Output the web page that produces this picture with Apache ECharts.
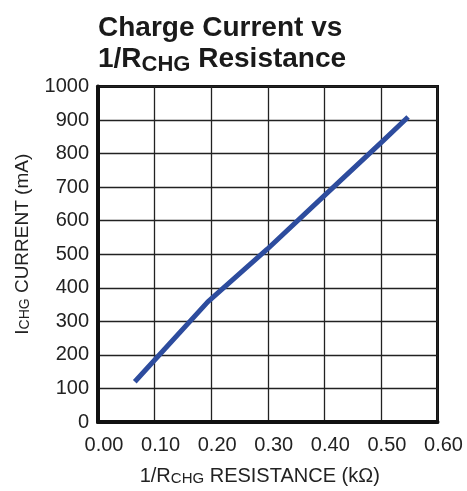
<!DOCTYPE html>
<html>
<head>
<meta charset="utf-8">
<script src="https://cdn.jsdelivr.net/npm/echarts@6/dist/echarts.min.js"></script>
<style>
html,body{margin:0;padding:0;background:#fff;}
#chart{width:467px;height:491px;}
</style>
</head>
<body>
<div id="chart"></div>
<script>
// Data
var xValues = [0.065, 0.194, 0.299, 0.392, 0.505, 0.548];   // 1/RCHG (1/kΩ)
var yValues = [120, 358, 515, 662, 840, 909];                // ICHG (mA)
var xTicks = ['0.00', '0.10', '0.20', '0.30', '0.40', '0.50', '0.60'];
var yTicks = ['0', '100', '200', '300', '400', '500', '600', '700', '800', '900', '1000'];

var FONT = '"Liberation Sans", Arial, sans-serif';
var chart = echarts.init(document.getElementById('chart'), null, {renderer: 'canvas'});

var pts = xValues.map(function (x, i) { return [x, yValues[i]]; });

chart.setOption({
  animation: false,
  backgroundColor: '#fff',
  title: {
    left: 93,
    top: 6,
    text: '{a|Charge Current vs}\n{a|1/R}{b|CHG}{a| Resistance}',
    textStyle: {
      rich: {
        a: {fontFamily: FONT, fontWeight: 'bold', fontSize: 28, color: '#1a1a1a', lineHeight: 31, verticalAlign: 'bottom'},
        b: {fontFamily: FONT, fontWeight: 'bold', fontSize: 22, color: '#1a1a1a', lineHeight: 31, verticalAlign: 'bottom', padding: [0, 0, -3, 0]}
      }
    }
  },
  grid: {
    left: 98, right: 29.5, top: 86.5, bottom: 68.5,
    show: true, borderColor: '#111', borderWidth: 3, backgroundColor: 'transparent'
  },
  xAxis: {
    type: 'value', min: 0, max: 0.6, interval: 0.1,
    axisLine: {show: true, onZero: false, lineStyle: {color: '#111', width: 4}},
    axisTick: {show: false},
    splitLine: {show: true, lineStyle: {color: '#222', width: 1.3}},
    axisLabel: {
      margin: 13, fontFamily: FONT, fontSize: 20, color: '#222',
      padding: [0, 0, 0, 12],
      formatter: function (v) { return xTicks[Math.round(v * 10)]; }
    },
    name: '{a|1/R}{b|CHG}{a| RESISTANCE (kΩ)}',
    nameLocation: 'middle', nameGap: 44,
    nameTextStyle: {
      padding: [0, 16, 0, 0],
      rich: {
        a: {fontFamily: FONT, fontSize: 20, color: '#222', verticalAlign: 'bottom'},
        b: {fontFamily: FONT, fontSize: 15, color: '#222', verticalAlign: 'bottom'}
      }
    }
  },
  yAxis: {
    type: 'value', min: 0, max: 1000, interval: 100,
    axisLine: {show: true, onZero: false, lineStyle: {color: '#111', width: 4}},
    axisTick: {show: false},
    splitLine: {show: true, lineStyle: {color: '#222', width: 1.3}},
    axisLabel: {
      margin: 9, fontFamily: FONT, fontSize: 20, color: '#222',
      formatter: function (v) { return yTicks[Math.round(v / 100)]; }
    },
    name: '{a|I}{b|CHG}{a| CURRENT (mA)}',
    nameLocation: 'middle', nameGap: 66, nameRotate: 90,
    nameTextStyle: {
      padding: [0, 0, 0, 20],
      rich: {
        a: {fontFamily: FONT, fontSize: 19, color: '#222', verticalAlign: 'bottom'},
        b: {fontFamily: FONT, fontSize: 14, color: '#222', verticalAlign: 'bottom'}
      }
    }
  },
  series: [{
    type: 'line',
    data: pts,
    showSymbol: false,
    smooth: false,
    lineStyle: {color: '#2d4c9e', width: 5, cap: 'butt', join: 'round'},
    z: 5
  }]
});
</script>
</body>
</html>
